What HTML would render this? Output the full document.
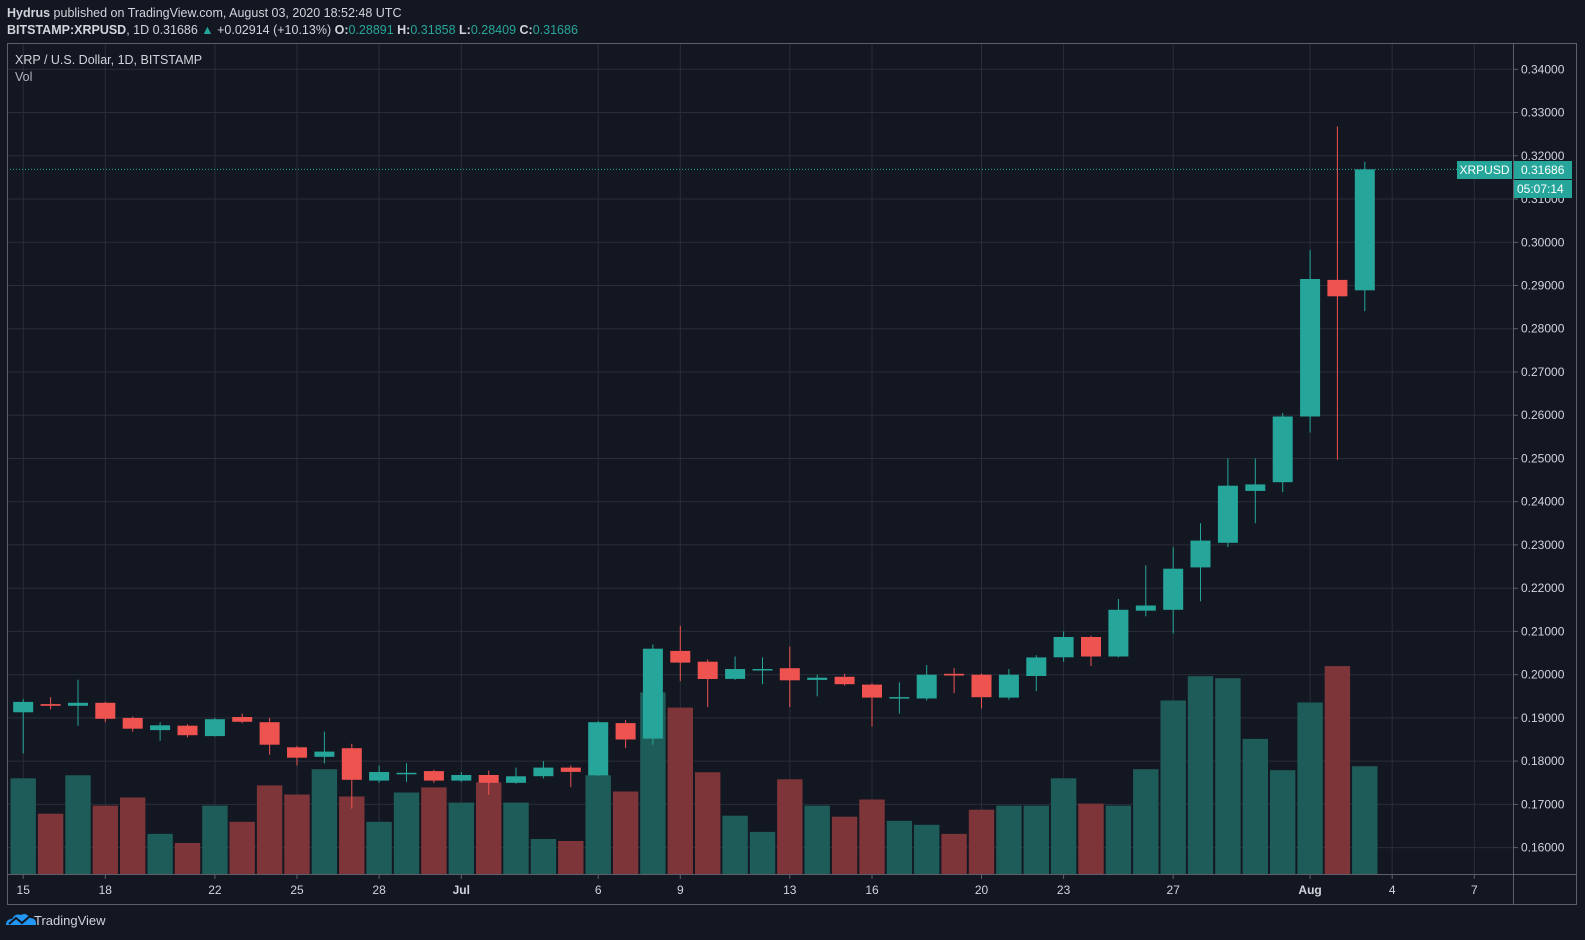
<!DOCTYPE html>
<html><head><meta charset="utf-8"><style>
body{margin:0;background:#131722;width:1585px;height:940px;overflow:hidden;font-family:"Liberation Sans",sans-serif}
svg{position:absolute;left:0;top:0}
</style></head><body>
<svg id="s" width="1585" height="940" xmlns="http://www.w3.org/2000/svg" font-family="Liberation Sans, sans-serif">
<rect width="1585" height="940" fill="#131722"/>
<text x="7" y="17" font-size="12.5" fill="#d1d4dc"><tspan font-weight="bold">Hydrus</tspan> published on TradingView.com, August 03, 2020 18:52:48 UTC</text>
<text x="7" y="34" font-size="12.5" fill="#d1d4dc"><tspan font-weight="bold">BITSTAMP:XRPUSD</tspan>, 1D 0.31686 <tspan fill="#26a69a">▲</tspan> +0.02914 (+10.13%) <tspan font-weight="bold">O:</tspan><tspan fill="#26a69a">0.28891</tspan> <tspan font-weight="bold">H:</tspan><tspan fill="#26a69a">0.31858</tspan> <tspan font-weight="bold">L:</tspan><tspan fill="#26a69a">0.28409</tspan> <tspan font-weight="bold">C:</tspan><tspan fill="#26a69a">0.31686</tspan></text>
<g id="g"></g>
<rect x="7.5" y="43.5" width="1569" height="861" fill="none" stroke="#5d606b"/>
<line x1="1513.5" y1="43" x2="1513.5" y2="905" stroke="#5d606b"/>
<line x1="7" y1="874.5" x2="1577" y2="874.5" stroke="#5d606b"/>
<text x="15" y="64" font-size="12.5" fill="#d1d4dc">XRP / U.S. Dollar, 1D, BITSTAMP</text>
<text x="15" y="81" font-size="12.5" fill="#b2b5be">Vol</text>
<g transform="translate(6,912)"><path d="M0 13 Q0 7 6 7 Q9 1 15 3 Q20 0 24 6 Q30 6 30 12 L30 13 Z" fill="#2196f3"/><path d="M3 12 L10 6 L16 11 L24 4" stroke="#131722" stroke-width="2" fill="none"/></g>
<text x="34" y="925" font-size="13" fill="#d1d4dc">TradingView</text>
</svg>
<script>
(function(){
var g=document.getElementById('g'),h='';
function Y(p){return 69.3+(0.34-p)*4324;}
function X(i){return 23.2+i*27.38;}
var ticks=[[0,'15'],[3,'18'],[7,'22'],[10,'25'],[13,'28'],[16,'Jul'],[21,'6'],[24,'9'],[28,'13'],[31,'16'],[35,'20'],[38,'23'],[42,'27'],[47,'Aug'],[50,'4'],[53,'7']];
for(var k=0;k<ticks.length;k++){var x=X(ticks[k][0]).toFixed(1);
h+='<line x1="'+x+'" y1="43" x2="'+x+'" y2="874" stroke="#2a2e39"/>';
h+='<line x1="'+x+'" y1="874" x2="'+x+'" y2="879" stroke="#5d606b"/>';
h+='<text x="'+x+'" y="894" font-size="12" fill="#d1d4dc" text-anchor="middle"'+(ticks[k][1]=='Jul'||ticks[k][1]=='Aug'?' font-weight="bold"':'')+'>'+ticks[k][1]+'</text>';}
for(var p=16;p<=34;p++){var y=Y(p/100);
h+='<line x1="7" y1="'+y.toFixed(1)+'" x2="1513" y2="'+y.toFixed(1)+'" stroke="#2a2e39"/>';
h+='<line x1="1513" y1="'+y.toFixed(1)+'" x2="1518" y2="'+y.toFixed(1)+'" stroke="#5d606b"/>';
h+='<text x="1521" y="'+(y+4).toFixed(1)+'" font-size="12" fill="#d1d4dc">0.'+p+'000</text>';}
var vt=[770,805,767,797,789,825,834,797,813,777,786,761,788,813,784,779,794,774,794,830,832,767,783,685,700,764,807,823,771,797,808,791,812,816,825,801,797,797,770,795,797,761,693,669,671,731,762,695,659,758];
var d=[[.1913,.1943,.1818,.1937],[.1932,.1948,.1920,.1928],[.1928,.1988,.1882,.1935],[.1935,.1937,.1890,.1898],[.1900,.1903,.1868,.1875],[.1872,.1890,.1847,.1883],[.1882,.1885,.1855,.1860],[.1858,.1900,.1857,.1897],[.1902,.1910,.1888,.1891],[.1890,.1900,.1815,.1838],[.1832,.1835,.1790,.1808],[.1810,.1868,.1795,.1822],[.1830,.1840,.1690,.1757],[.1755,.1790,.1750,.1775],[.1770,.1795,.1752,.1773],[.1777,.1780,.1750,.1755],[.1755,.1775,.1752,.1768],[.1768,.1778,.1722,.1750],[.1750,.1785,.1748,.1765],[.1765,.1800,.1760,.1785],[.1785,.1790,.1740,.1775],[.1767,.1893,.1765,.1890],[.1888,.1895,.1830,.1850],[.1852,.2070,.1838,.2060],[.2055,.2113,.1985,.2028],[.2030,.2035,.1925,.1990],[.1990,.2042,.1988,.2013],[.2010,.2040,.1978,.2013],[.2015,.2065,.1925,.1987],[.1988,.2000,.1950,.1993],[.1995,.2002,.1975,.1978],[.1977,.1980,.1880,.1947],[.1945,.1982,.1910,.1948],[.1945,.2022,.1940,.2000],[.2002,.2015,.1957,.1998],[.2000,.2003,.1922,.1948],[.1947,.2013,.1942,.2000],[.1997,.2045,.1962,.2040],[.2040,.2100,.2030,.2087],[.2087,.2090,.2020,.2042],[.2042,.2175,.2040,.2150],[.2148,.2253,.2135,.2160],[.2150,.2295,.2095,.2245],[.2248,.2350,.2170,.2310],[.2305,.2500,.2295,.2437],[.2425,.2500,.2350,.2440],[.2445,.2605,.2422,.2597],[.2597,.2982,.2560,.2915],[.2913,.3268,.2497,.2875],[.2889,.31858,.28409,.31686]];
for(var i=0;i<50;i++){var up=d[i][3]>=d[i][0];var vtop=vt[i]*1.0108;
h+='<rect x="'+(X(i)-12.7).toFixed(1)+'" y="'+vtop.toFixed(1)+'" width="25.4" height="'+(874-vtop).toFixed(1)+'" fill="'+(up?'#1e5c59':'#7e3539')+'"/>';}
for(var i=0;i<50;i++){var o=d[i][0],hh=d[i][1],l=d[i][2],c=d[i][3],up=c>=o,col=up?'#26a69a':'#ef5350',x=X(i);
h+='<line x1="'+x.toFixed(1)+'" y1="'+Y(hh).toFixed(1)+'" x2="'+x.toFixed(1)+'" y2="'+Y(l).toFixed(1)+'" stroke="'+col+'"/>';
var t=Y(Math.max(o,c)),b=Y(Math.min(o,c));if(b-t<1.5)b=t+1.5;
h+='<rect x="'+(x-10).toFixed(1)+'" y="'+t.toFixed(1)+'" width="20" height="'+(b-t).toFixed(1)+'" fill="'+col+'"/>';}
var yc=Y(.31686).toFixed(1);
h+='<line x1="7" y1="'+yc+'" x2="1457" y2="'+yc+'" stroke="#26a69a" stroke-dasharray="1,2"/>';
h+='<rect x="1457" y="161" width="55" height="18" fill="#26a69a"/><text x="1484.5" y="174" font-size="12" fill="#fff" text-anchor="middle">XRPUSD</text>';
h+='<rect x="1513" y="161" width="59" height="18" fill="#26a69a"/><text x="1521" y="174" font-size="12" fill="#fff">0.31686</text>';
h+='<rect x="1513" y="180" width="59" height="18" fill="#26a69a"/><text x="1517" y="193" font-size="12" fill="#fff">05:07:14</text>';
g.innerHTML=h;
})();
</script>
</body></html>
